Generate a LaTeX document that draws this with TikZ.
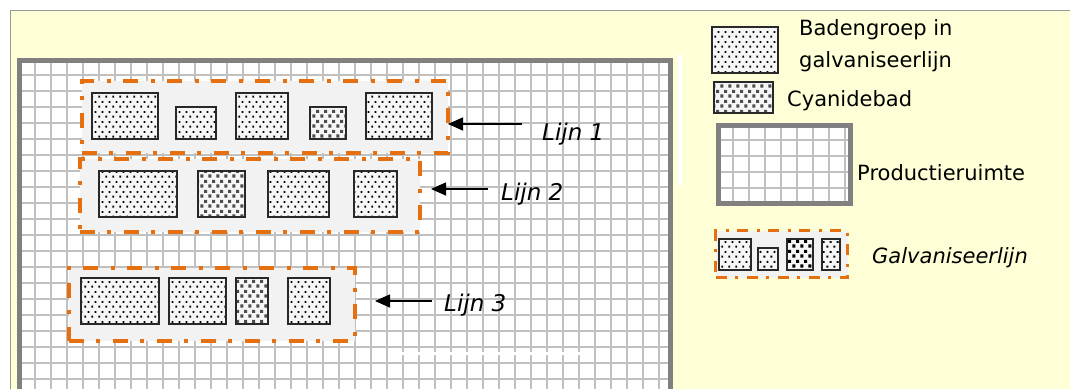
\documentclass[tikz,border=0pt]{standalone}
\usepackage{fontspec}
\setmainfont{DejaVu Sans}
\usetikzlibrary{
    positioning,
    arrows.meta,
    patterns
}

\definecolor{kaderfill}{RGB}{255,255,215}
\definecolor{kaderrand}{RGB}{150,150,150}
\definecolor{ruimterand}{RGB}{128,128,128}
\definecolor{rastergrijs}{RGB}{192,192,192}
\definecolor{lijnfill}{RGB}{242,242,242}
\definecolor{lijnoranje}{RGB}{230,112,15}
\definecolor{badfill}{RGB}{246,246,246}
\definecolor{badrand}{RGB}{40,40,40}
\definecolor{cyaangrijs}{RGB}{75,75,75}

% stippen van een gewoon bad
\pgfdeclarepatternformonly{baddots}{\pgfqpoint{0pt}{0pt}}{\pgfqpoint{7pt}{10pt}}{\pgfqpoint{7pt}{10pt}}{%
  \pgfpathrectangle{\pgfqpoint{0.5pt}{0.5pt}}{\pgfqpoint{2pt}{2pt}}%
  \pgfpathrectangle{\pgfqpoint{4pt}{5.5pt}}{\pgfqpoint{2pt}{2pt}}%
  \pgfusepath{fill}}
% blokjes van een cyanidebad
\pgfdeclarepatternformonly{cyaandots}{\pgfqpoint{0pt}{0pt}}{\pgfqpoint{8pt}{10pt}}{\pgfqpoint{8pt}{10pt}}{%
  \pgfpathrectangle{\pgfqpoint{0.5pt}{0.5pt}}{\pgfqpoint{3.3pt}{3.3pt}}%
  \pgfpathrectangle{\pgfqpoint{4.5pt}{5.5pt}}{\pgfqpoint{3.3pt}{3.3pt}}%
  \pgfusepath{fill}}

\begin{document}
\begin{tikzpicture}[
      x=1pt, y=-1pt,
      bad/.style={draw=badrand, line width=1.3pt, preaction={fill=badfill}, pattern=baddots, inner sep=0pt, outer sep=0pt},
      cyaan/.style={bad, pattern=cyaandots, pattern color=cyaangrijs},
      lijnbox/.style={draw=lijnoranje, line width=4pt, dash pattern=on 15pt off 12pt on 4pt off 13pt, fill=lijnfill, inner sep=0pt, outer sep=0pt},
      ruimte/.style={draw=ruimterand, line width=5pt},
      raster/.style={draw=rastergrijs, line width=2pt},
      legtekst/.style={font=\fontsize{21}{32}\selectfont, anchor=west, align=left, inner sep=0pt},
      lijntekst/.style={font=\fontsize{23}{26}\selectfont\itshape, anchor=west, inner sep=0pt},
      pijl/.style={-{Triangle[length=15pt,width=13pt]}, line width=1.5pt}
    ]
    \useasboundingbox[fill=white] (0,0) rectangle (1070,388);
    \fill[kaderfill] (10,10) rectangle (1075,395);
    \draw[kaderrand, line width=1.2pt] (10.5,395) -- (10.5,10.5) -- (1075,10.5);
    \fill[white] (678,55) rectangle (682,185);

    % productieruimte
    \fill[white] (19.5,60.5) rectangle (670.5,395);
    \foreach \x in {35,51,...,660}
      \draw[raster] (\x,60.5) -- (\x,395);
    \foreach \y in {75,91,...,390}
      \draw[raster] (19.5,\y) -- (670.5,\y);
    \draw[ruimte] (19.5,395) -- (19.5,60.5) -- (670.5,60.5) -- (670.5,395);
    \fill[white] (402,352) rectangle (580,355);

    % galvaniseerlijnen
    \node[lijnbox, minimum width=366pt, minimum height=72pt] (lijn1box) at (265,117) {};
    \node[lijnbox, minimum width=340pt, minimum height=73pt] (lijn2box) at (250,195.5) {};
    \node[lijnbox, minimum width=286pt, minimum height=73pt] (lijn3box) at (212,304.5) {};

    \node[bad, minimum width=66pt, minimum height=46pt, anchor=south west] (bad11) at (92,139) {};
    \node[bad, minimum width=40pt, minimum height=32pt, right=18pt of bad11.south east, anchor=south west] (bad12) {};
    \node[bad, minimum width=52pt, minimum height=46pt, right=20pt of bad12.south east, anchor=south west] (bad13) {};
    \node[cyaan, minimum width=36pt, minimum height=32pt, right=22pt of bad13.south east, anchor=south west] (cyaan14) {};
    \node[bad, minimum width=66pt, minimum height=46pt, right=20pt of cyaan14.south east, anchor=south west] (bad15) {};

    \node[bad, minimum width=78pt, minimum height=46pt, anchor=south west] (bad21) at (99,217) {};
    \node[cyaan, minimum width=47pt, minimum height=46pt, right=21pt of bad21.south east, anchor=south west] (cyaan22) {};
    \node[bad, minimum width=61pt, minimum height=46pt, right=23pt of cyaan22.south east, anchor=south west] (bad23) {};
    \node[bad, minimum width=43pt, minimum height=46pt, right=25pt of bad23.south east, anchor=south west] (bad24) {};

    \node[bad, minimum width=78pt, minimum height=46pt, anchor=south west] (bad31) at (81,324) {};
    \node[bad, minimum width=57pt, minimum height=46pt, right=10pt of bad31.south east, anchor=south west] (bad32) {};
    \node[cyaan, minimum width=32pt, minimum height=46pt, right=10pt of bad32.south east, anchor=south west] (cyaan33) {};
    \node[bad, minimum width=42pt, minimum height=46pt, right=20pt of cyaan33.south east, anchor=south west] (bad34) {};

    \node[lijntekst] (lijn1) at (542,134) {Lijn 1};
    \node[lijntekst] (lijn2) at (501,194) {Lijn 2};
    \node[lijntekst] (lijn3) at (444,305) {Lijn 3};
    \coordinate (pijl1) at (522,124);
    \coordinate (pijl2) at (488,189);
    \coordinate (pijl3) at (432,301);
    \draw[pijl] (pijl1) -- (pijl1 -| lijn1box.east);
    \draw[pijl, shorten >=11pt] (pijl2) -- (pijl2 -| lijn2box.east);
    \draw[pijl, shorten >=20pt] (pijl3) -- (pijl3 -| lijn3box.east);

    % legenda
    \node[bad, minimum width=66pt, minimum height=46pt] (legbad) at (745,50) {};
    \node[legtekst] (legbadtekst) at (799,46) {Badengroep in\\galvaniseerlijn};
    \node[cyaan, minimum width=59pt, minimum height=31pt] (legcyaan) at (743.5,97.5) {};
    \node[legtekst] (legcyaantekst) at (787,101) {Cyanidebad};

    \fill[white] (718.5,125.5) rectangle (850.5,203.5);
    \foreach \x in {733,749,...,845}
      \draw[raster] (\x,125.5) -- (\x,203.5);
    \foreach \y in {140,156,...,200}
      \draw[raster] (718.5,\y) -- (850.5,\y);
    \node[ruimte, minimum width=132pt, minimum height=78pt, inner sep=0pt] (legruimte) at (784.5,164.5) {};
    \node[legtekst] (legruimtetekst) at (857,173) {Productieruimte};

    \node[lijnbox, line width=3pt, dash pattern=on 11pt off 8pt on 3pt off 9pt, minimum width=132pt, minimum height=47pt] (leglijn) at (781.5,254) {};
    \node[bad, minimum width=32pt, minimum height=31pt, anchor=south west] (legbad1) at (719,270) {};
    \node[bad, minimum width=20pt, minimum height=22pt, right=7pt of legbad1.south east, anchor=south west] (legbad2) {};
    \node[cyaan, pattern color=black, minimum width=26pt, minimum height=31pt, right=9pt of legbad2.south east, anchor=south west] (legcyaan3) {};
    \node[bad, minimum width=18pt, minimum height=31pt, right=9pt of legcyaan3.south east, anchor=south west] (legbad4) {};
    \node[legtekst, font=\fontsize{21}{24}\selectfont\itshape] (leglijntekst) at (872,258) {Galvaniseerlijn};
  \end{tikzpicture}
\end{document}
